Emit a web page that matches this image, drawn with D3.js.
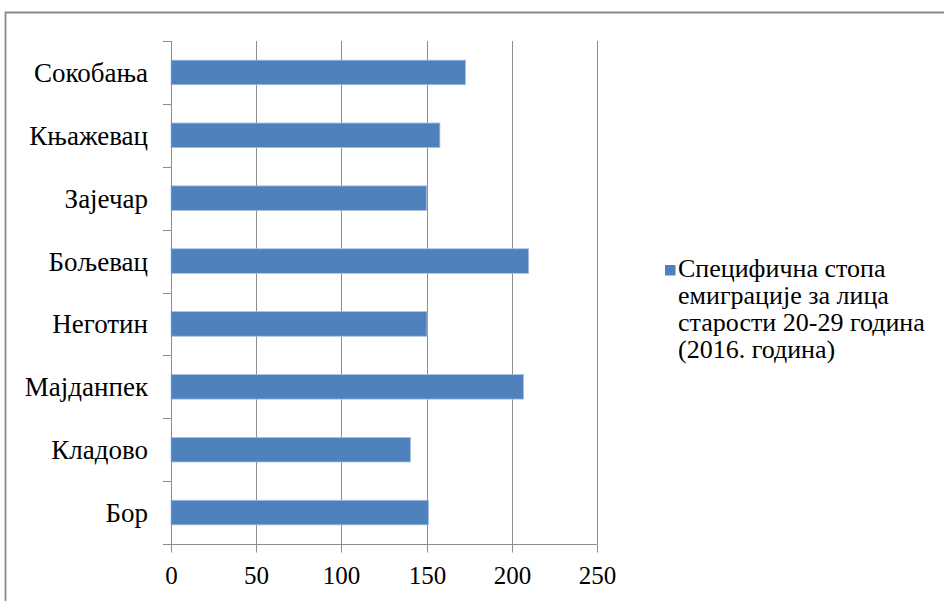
<!DOCTYPE html>
<html>
<head>
<meta charset="utf-8">
<script src="https://cdn.jsdelivr.net/npm/d3@7"></script>
</head>
<body style="margin:0">
<svg id="chart" width="944" height="601"></svg>
<script>
// Data (top to bottom as displayed)
const categories = ["Сокобања", "Књажевац", "Зајечар", "Бољевац", "Неготин", "Мајданпек", "Кладово", "Бор"];
const values = [172.8, 157.8, 150.0, 209.9, 150.2, 206.9, 140.6, 151.1];
const xTicks = [0, 50, 100, 150, 200, 250];
const seriesName = ["Специфична стопа", "емиграције за лица", "старости 20-29 година", "(2016. година)"];

(function () {
const svg = d3.select("#chart");
const gridColor = "#8c8c8c";
const barColor = "#4f81bd";

// outer chart border (right/bottom edges fall outside the picture)
svg.append("path")
  .attr("d", "M5.5,601V12.5H944")
  .attr("fill", "none").attr("stroke", "#8a8a8a").attr("stroke-width", 1.8);

const pLeft = 171, pRight = 597, pTop = 41, pBottom = 544;

const x = d3.scaleLinear().domain([0, 250]).range([pLeft, pRight]);
const band = d3.scaleBand().domain(categories).range([pTop, pBottom]);

// gridlines
svg.append("g").selectAll("line").data(xTicks).join("line")
  .attr("x1", d => Math.round(x(d)) + 0.5).attr("x2", d => Math.round(x(d)) + 0.5)
  .attr("y1", pTop).attr("y2", pBottom)
  .attr("stroke", gridColor).attr("stroke-width", 1);

// bars
svg.append("g").selectAll("rect").data(categories).join("rect")
  .attr("x", x(0))
  .attr("y", d => band(d) + band.bandwidth() / 2 - 12.3)
  .attr("width", (d, i) => x(values[i]) - x(0))
  .attr("height", 24.6)
  .attr("fill", barColor)
  .attr("stroke", "#a9c1e3").attr("stroke-width", 0.8);

// x axis
const xAxis = d3.axisBottom(x).tickValues(xTicks).tickSize(8).tickPadding(14).tickFormat(d3.format("d"));
const gx = svg.append("g").attr("transform", `translate(0.5,${pBottom + 0.5})`).call(xAxis);
gx.select(".domain").attr("stroke", gridColor).attr("d", `M${pLeft - 8 - 0.5},0H${pRight - 0.5}`);
gx.selectAll(".tick line").attr("stroke", gridColor);
gx.selectAll(".tick text")
  .style("font-family", '"Liberation Serif"')
  .attr("font-size", 25).attr("fill", "#000");
gx.selectAll(".tick").attr("transform", d => `translate(${Math.round(x(d))},0)`);

// y axis line
svg.append("line")
  .attr("x1", pLeft + 0.5).attr("x2", pLeft + 0.5)
  .attr("y1", pTop).attr("y2", pBottom + 8)
  .attr("stroke", gridColor);

// y ticks at band boundaries
const boundaries = categories.map(c => band(c)).concat([pBottom]);
svg.append("g").selectAll("line").data(boundaries).join("line")
  .attr("x1", pLeft - 8).attr("x2", pLeft)
  .attr("y1", d => Math.round(d) + 0.5).attr("y2", d => Math.round(d) + 0.5)
  .attr("stroke", gridColor);

// category labels
svg.append("g").selectAll("text").data(categories).join("text")
  .attr("x", 148)
  .attr("y", d => band(d) + band.bandwidth() / 2 + 9.5)
  .attr("text-anchor", "end")
  .style("font-family", '"Liberation Serif"')
  .attr("font-size", 27)
  .attr("fill", "#000")
  .text(d => d);

// legend
const lg = svg.append("g");
lg.append("rect").attr("x", 665).attr("y", 265).attr("width", 10.5).attr("height", 10.5).attr("fill", barColor);
lg.selectAll("text").data(seriesName).join("text")
  .attr("x", 678)
  .attr("y", (d, i) => 277 + i * 27)
  .style("font-family", '"Liberation Serif"')
  .attr("font-size", 26)
  .attr("fill", "#000")
  .text(d => d);
})();
</script>
</body>
</html>
